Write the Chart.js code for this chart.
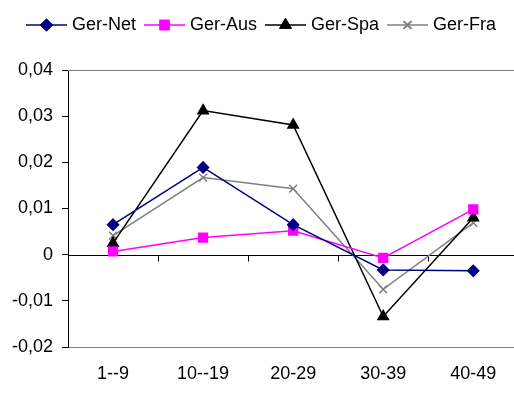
<!DOCTYPE html>
<html>
<head>
<meta charset="utf-8">
<script src="https://cdn.jsdelivr.net/npm/chart.js@4.4.1/dist/chart.umd.min.js"></script>
<style>
  html, body { margin: 0; padding: 0; background: #fff; overflow: hidden; }
  #wrap { width: 514px; height: 395px; overflow: hidden; }
</style>
</head>
<body>
<div id="wrap"><canvas id="grafica" width="526" height="395"></canvas></div>
<script>
// Gruppen und Werte
const categorias = ['1--9', '10--19', '20-29', '30-39', '40-49'];
const gerNet = [0.0065, 0.0189, 0.0065, -0.0033, -0.0035];
const gerAus = [0.0007, 0.0037, 0.0052, -0.0007, 0.0098];
const gerSpa = [0.0025, 0.0312, 0.0281, -0.0134, 0.0080];
const gerFra = [0.0041, 0.0167, 0.0143, -0.0075, 0.0069];
const yTicks = [-0.02, -0.01, 0, 0.01, 0.02, 0.03, 0.04];

const series = [
  { label: 'Ger-Net', data: gerNet, color: '#000080', style: 'rectRot', radius: 5.5 },
  { label: 'Ger-Aus', data: gerAus, color: '#ff00ff', style: 'rect', radius: 6.2 },
  { label: 'Ger-Spa', data: gerSpa, color: '#000000', style: 'triangle', radius: 6 },
  { label: 'Ger-Fra', data: gerFra, color: '#808080', style: 'crossRot', radius: 5.5 }
];

// Legendensymbol: Linie mit Marker in der Mitte
function iconoLeyenda(s) {
  const c = document.createElement('canvas');
  c.width = 41;
  c.height = 14;
  const ctx = c.getContext('2d');
  ctx.strokeStyle = s.color;
  ctx.lineWidth = 1.5;
  ctx.beginPath();
  ctx.moveTo(0, 7);
  ctx.lineTo(41, 7);
  ctx.stroke();
  Chart.helpers.drawPoint(ctx, {
    pointStyle: s.style,
    radius: s.radius,
    borderWidth: 1.5,
    rotation: 0
  }, 20.5, 7);
  ctx.fillStyle = s.color;
  ctx.fill();
  ctx.stroke();
  return c;
}

// mehr Abstand unter der Legende
const espacioLeyenda = {
  id: 'espacioLeyenda',
  beforeInit(chart) {
    const fitOriginal = chart.legend.fit;
    chart.legend.fit = function () {
      fitOriginal.call(this);
      this.height += 26;
    };
  }
};

// Rahmen oben und Nulllinie mit Teilstrichen
const ejes = {
  id: 'ejes',
  beforeDatasetsDraw(chart) {
    const { ctx, chartArea, scales } = chart;
    const y0 = Math.round(scales.y.getPixelForValue(0)) + 0.5;
    ctx.save();
    ctx.strokeStyle = '#808080';
    ctx.lineWidth = 1;
    ctx.beginPath();
    ctx.moveTo(chartArea.left, Math.round(chartArea.top) + 0.5);
    ctx.lineTo(chartArea.right, Math.round(chartArea.top) + 0.5);
    ctx.stroke();
    ctx.strokeStyle = '#000000';
    ctx.beginPath();
    ctx.moveTo(chartArea.left, y0);
    ctx.lineTo(chartArea.right, y0);
    const paso = (chartArea.right - chartArea.left) / categorias.length;
    for (let i = 1; i < categorias.length; i++) {
      const x = Math.round(chartArea.left + paso * i) + 0.5;
      ctx.moveTo(x, y0);
      ctx.lineTo(x, y0 + 6);
    }
    ctx.stroke();
    ctx.restore();
  }
};

const ctx = document.getElementById('grafica').getContext('2d');
window.miGrafica = new Chart(ctx, {
  type: 'line',
  data: {
    labels: categorias,
    datasets: series.map(s => ({
      label: s.label,
      data: s.data,
      borderColor: s.color,
      backgroundColor: s.color,
      borderWidth: 1.5,
      pointStyle: s.style,
      pointRadius: s.radius,
      pointHoverRadius: s.radius,
      pointBorderWidth: 1.5,
      tension: 0,
      fill: false
    }))
  },
  options: {
    responsive: false,
    devicePixelRatio: 1,
    animation: false,
    layout: { padding: { top: 4, left: 0, right: 0, bottom: 0 } },
    plugins: {
      tooltip: { enabled: false },
      legend: {
        position: 'top',
        labels: {
          color: '#000',
          font: { family: 'Liberation Sans, Arial, sans-serif', size: 18 },
          usePointStyle: true,
          pointStyleWidth: 33,
          boxHeight: 14,
          padding: 12,
          generateLabels() {
            return series.map((s, i) => ({
              text: s.label,
              pointStyle: iconoLeyenda(s),
              fillStyle: s.color,
              strokeStyle: s.color,
              lineWidth: 0,
              datasetIndex: i
            }));
          }
        }
      }
    },
    scales: {
      x: {
        offset: true,
        grid: { display: false, offset: true },
        border: { color: '#808080', width: 1 },
        ticks: {
          color: '#000',
          padding: 8,
          font: { family: 'Liberation Sans, Arial, sans-serif', size: 18 }
        },
        afterFit(scale) { scale.height = 48; }
      },
      y: {
        min: -0.02,
        max: 0.04,
        afterBuildTicks(scale) { scale.ticks = yTicks.map(v => ({ value: v })); },
        grid: { drawOnChartArea: false, tickLength: 6, color: '#000' },
        border: { color: '#000', width: 1 },
        ticks: {
          color: '#000',
          padding: 9,
          font: { family: 'Liberation Sans, Arial, sans-serif', size: 18 },
          callback: v => Math.abs(v) < 1e-9 ? '0' : v.toFixed(2).replace('.', ',')
        },
        afterFit(scale) { scale.width = 68; }
      }
    }
  },
  plugins: [espacioLeyenda, ejes]
});
</script>
</body>
</html>
